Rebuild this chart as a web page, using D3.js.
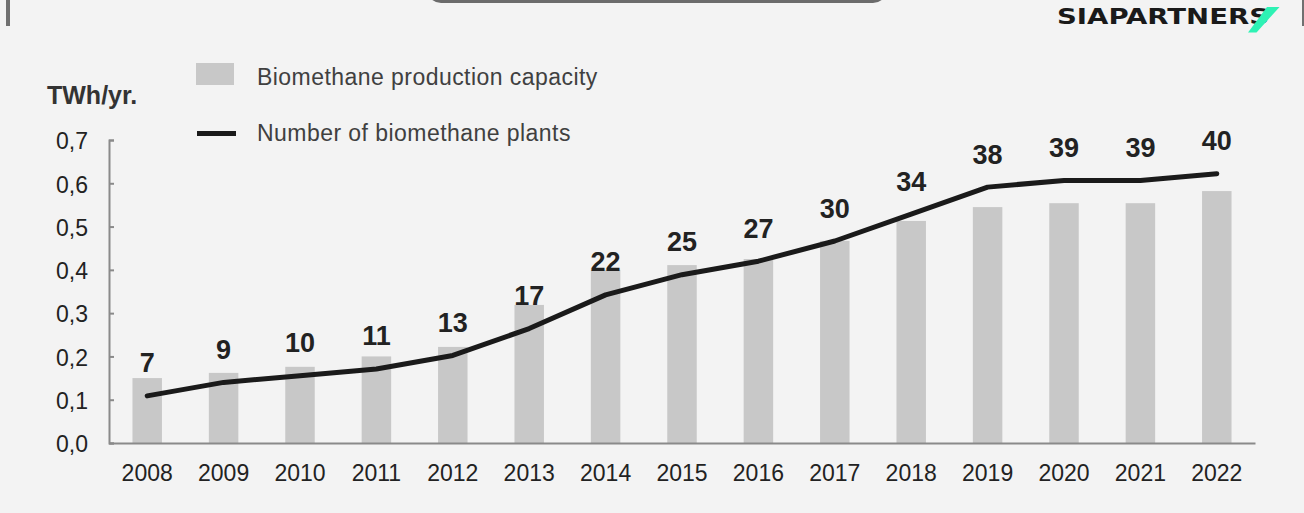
<!DOCTYPE html>
<html>
<head>
<meta charset="utf-8">
<script src="https://cdn.jsdelivr.net/npm/d3@7/dist/d3.min.js"></script>
<style>
  html, body { margin: 0; padding: 0; background: #f3f3f3; }
  svg { display: block; }
  text { font-family: "Liberation Sans", Arial, sans-serif; }
</style>
</head>
<body>
<svg id="chart" width="1304" height="513"></svg>
<script>
const years = ["2008","2009","2010","2011","2012","2013","2014","2015","2016","2017","2018","2019","2020","2021","2022"];
const capacity = [0.15, 0.162, 0.176, 0.20, 0.222, 0.319, 0.40, 0.411, 0.425, 0.467, 0.513, 0.545, 0.554, 0.554, 0.582];
const plants = [7, 9, 10, 11, 13, 17, 22, 25, 27, 30, 34, 38, 39, 39, 40];
const yTicks = [0, 0.1, 0.2, 0.3, 0.4, 0.5, 0.6, 0.7];
const unitLabel = "TWh/yr.";
const legendLabels = ["Biomethane production capacity", "Number of biomethane plants"];

const svg = d3.select("#chart");
const W = 1304, H = 513;
svg.append("rect").attr("width", W).attr("height", H).attr("fill", "#f3f3f3");

// decorations
svg.append("rect").attr("x", 6).attr("y", 0).attr("width", 4).attr("height", 26).attr("fill", "#707070");
svg.append("rect").attr("x", 1302).attr("y", 0).attr("width", 2).attr("height", 26).attr("fill", "#707070");
svg.append("rect").attr("x", 427).attr("y", -30).attr("width", 460).attr("height", 33).attr("rx", 14).attr("fill", "#6b6b6b");

// logo
svg.append("text").attr("x", 1057).attr("y", 23.5)
  .attr("textLength", 212).attr("lengthAdjust", "spacingAndGlyphs")
  .style("font-family", "'DejaVu Sans', sans-serif").style("font-weight", "bold")
  .style("font-size", "21px").attr("fill", "#1a1a1a").text("SIAPARTNERS");
svg.append("path").attr("d", "M1267,7 L1279.5,7 L1256.5,32.5 L1248,32.5 Z").attr("fill", "#2ef2b4");

const x = d3.scaleBand().domain(years).range([109, 1255]).paddingInner(0.614).paddingOuter(0.307);
const y = d3.scaleLinear().domain([0, 0.7]).range([443, 140]);
const y2 = d3.scaleLinear().domain([0, 45]).range([443, 140]);

// bars
svg.append("g").selectAll("rect").data(years).join("rect")
  .attr("x", d => x(d))
  .attr("width", x.bandwidth())
  .attr("y", (d, i) => y(capacity[i]))
  .attr("height", (d, i) => y(0) - y(capacity[i]))
  .attr("fill", "#c8c8c8");

// y axis
const yAxis = d3.axisLeft(y).tickValues(yTicks).tickSize(-5).tickPadding(21)
  .tickFormat(d => d3.format(".1f")(d).replace(".", ","));
const gy = svg.append("g").attr("transform", "translate(109,0)").call(yAxis);
gy.select(".domain").attr("stroke", "#8a8a8a").attr("stroke-width", 2);
gy.selectAll(".tick line").attr("stroke", "#8a8a8a").attr("stroke-width", 2);
gy.selectAll(".tick text").attr("fill", "#222").style("font-size", "23px")
  .style("font-family", "'Liberation Sans', Arial, sans-serif").attr("dy", "0.38em");

// x axis
const xAxis = d3.axisBottom(x).tickSize(0).tickPadding(22);
const gx = svg.append("g").attr("transform", "translate(0,443)").call(xAxis);
gx.select(".domain").attr("stroke", "#8a8a8a").attr("stroke-width", 2);
gx.selectAll(".tick text").attr("fill", "#222").style("font-size", "23px")
  .style("font-family", "'Liberation Sans', Arial, sans-serif");

// line
const line = d3.line()
  .x((d, i) => x(years[i]) + x.bandwidth() / 2)
  .y(d => y2(d));
svg.append("path").datum(plants).attr("d", line)
  .attr("fill", "none").attr("stroke", "#1a1a1a").attr("stroke-width", 5)
  .attr("stroke-linejoin", "round").attr("stroke-linecap", "round");

// labels
svg.append("g").selectAll("text").data(plants).join("text")
  .attr("x", (d, i) => x(years[i]) + x.bandwidth() / 2)
  .attr("y", d => y2(d) - 23.5)
  .attr("text-anchor", "middle")
  .style("font-size", "27px").style("font-weight", "bold")
  .attr("fill", "#222").text(d => d);

// unit label
svg.append("text").attr("x", 47).attr("y", 104).style("font-size", "25px").style("font-weight", "bold")
  .attr("fill", "#333").text(unitLabel);

// legend
svg.append("rect").attr("x", 196).attr("y", 63).attr("width", 38).attr("height", 22).attr("fill", "#c8c8c8");
svg.append("rect").attr("x", 197).attr("y", 131).attr("width", 39).attr("height", 5).attr("fill", "#1a1a1a");
svg.append("text").attr("x", 257).attr("y", 84.5).style("font-size", "23px").style("letter-spacing", "0.45px")
  .attr("fill", "#404040").text(legendLabels[0]);
svg.append("text").attr("x", 257).attr("y", 141).style("font-size", "23px").style("letter-spacing", "0.45px")
  .attr("fill", "#404040").text(legendLabels[1]);
</script>
</body>
</html>
